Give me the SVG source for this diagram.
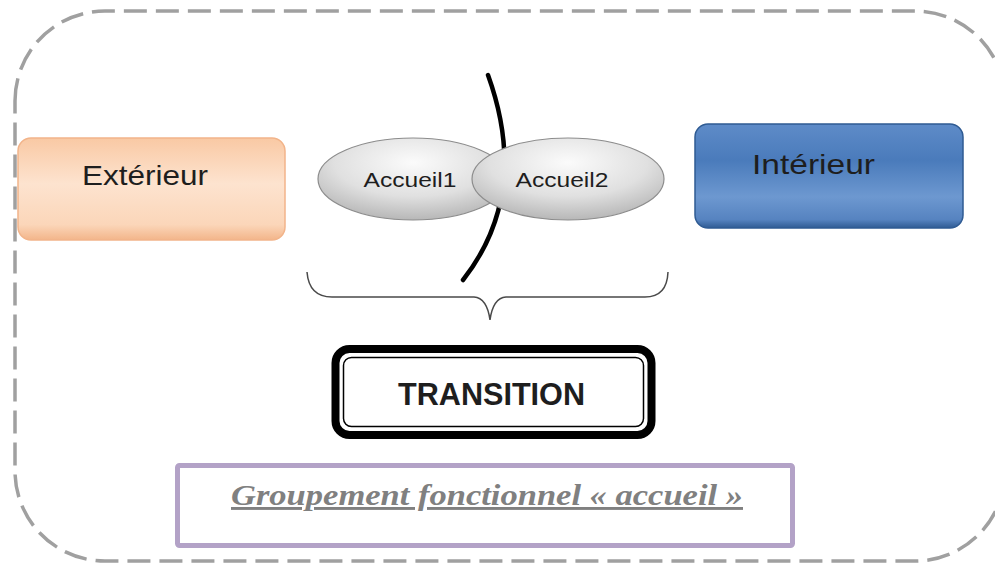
<svg xmlns="http://www.w3.org/2000/svg" width="995" height="587" viewBox="0 0 995 587">
  <defs>
    <linearGradient id="gOrange" x1="0" y1="0" x2="0" y2="1">
      <stop offset="0" stop-color="#f9c9a4"/>
      <stop offset="0.45" stop-color="#fde3cf"/>
      <stop offset="0.85" stop-color="#fbd6b9"/>
      <stop offset="1" stop-color="#f3b58a"/>
    </linearGradient>
    <linearGradient id="gBlue" x1="0" y1="0" x2="0" y2="1">
      <stop offset="0" stop-color="#5e8bc8"/>
      <stop offset="0.35" stop-color="#4a7bbb"/>
      <stop offset="0.7" stop-color="#6d98d0"/>
      <stop offset="0.92" stop-color="#5683c0"/>
      <stop offset="1" stop-color="#2f5b93"/>
    </linearGradient>
    <radialGradient id="gGray" cx="0.5" cy="0.3" r="0.75">
      <stop offset="0" stop-color="#fbfbfb"/>
      <stop offset="0.55" stop-color="#e0e0e0"/>
      <stop offset="1" stop-color="#b0b0b0"/>
    </radialGradient>
    <style>
      .frame { fill: none; stroke: #a0a0a0; stroke-width: 3.5; stroke-dasharray: 23 9; }
      .lbl { font-family: "Liberation Sans", Arial, sans-serif; fill: #1e1e1e; }
      .ell { fill: url(#gGray); stroke: #8c8c8c; stroke-width: 1.2; }
    </style>
  </defs>

  <rect width="995" height="587" fill="#ffffff"/>

  <!-- dashed frame -->
  <path class="frame" d="M15,101 A90,90 0 0 1 105,11 L915,11 A90,90 0 0 1 1005,101 L1005,471 A90,90 0 0 1 915,561 L105,561 A90,90 0 0 1 15,471 Z"/>

  <g id="exterieur">
    <rect x="18" y="138" width="267" height="102" rx="13" fill="url(#gOrange)" stroke="#f2b48a" stroke-width="1.5"/>
    <text class="lbl" x="145" y="185" font-size="28" text-anchor="middle" textLength="126" lengthAdjust="spacingAndGlyphs">Extérieur</text>
  </g>

  <g id="interieur">
    <rect x="695" y="124" width="268" height="104" rx="13" fill="url(#gBlue)" stroke="#2f5b93" stroke-width="1.5"/>
    <text class="lbl" x="752" y="174" font-size="28" fill="#1a1f2e" textLength="123" lengthAdjust="spacingAndGlyphs">Intérieur</text>
  </g>

  <g id="connectors">
    <path d="M488,75 C515,150 510,220 463,280" fill="none" stroke="#000" stroke-width="4.5" stroke-linecap="round"/>
    <path d="M307,272 Q309,297 332,297 L474,297 Q487,298 490,320 Q493,298 506,297 L645,297 Q667,297 668,272" fill="none" stroke="#4a4a4a" stroke-width="1.5"/>
  </g>

  <g id="accueil1">
    <ellipse class="ell" cx="413" cy="179" rx="95" ry="41"/>
    <text class="lbl" x="410" y="187" font-size="21" text-anchor="middle" textLength="93" lengthAdjust="spacingAndGlyphs">Accueil1</text>
  </g>

  <g id="accueil2">
    <ellipse class="ell" cx="568" cy="179" rx="96" ry="41"/>
    <text class="lbl" x="562" y="187" font-size="21" text-anchor="middle" textLength="93" lengthAdjust="spacingAndGlyphs">Accueil2</text>
  </g>

  <g id="transition">
    <rect x="335.5" y="349" width="316" height="86" rx="14" fill="#ffffff" stroke="#000" stroke-width="8"/>
    <rect x="343.5" y="357.5" width="300" height="69" rx="8" fill="none" stroke="#000" stroke-width="1.5"/>
    <text class="lbl" x="491.5" y="405" font-size="31" font-weight="bold" fill="#111" text-anchor="middle" textLength="187" lengthAdjust="spacingAndGlyphs">TRANSITION</text>
  </g>

  <g id="groupement">
    <rect x="177.5" y="465.5" width="615" height="80" rx="2" fill="#ffffff" stroke="#b3a2c7" stroke-width="5"/>
    <text x="231" y="505" font-family="Liberation Serif, 'Times New Roman', serif" font-style="italic" font-weight="bold" font-size="29" fill="#808080" text-decoration="underline" textLength="512" lengthAdjust="spacingAndGlyphs">Groupement fonctionnel « accueil »</text>
  </g>
</svg>
